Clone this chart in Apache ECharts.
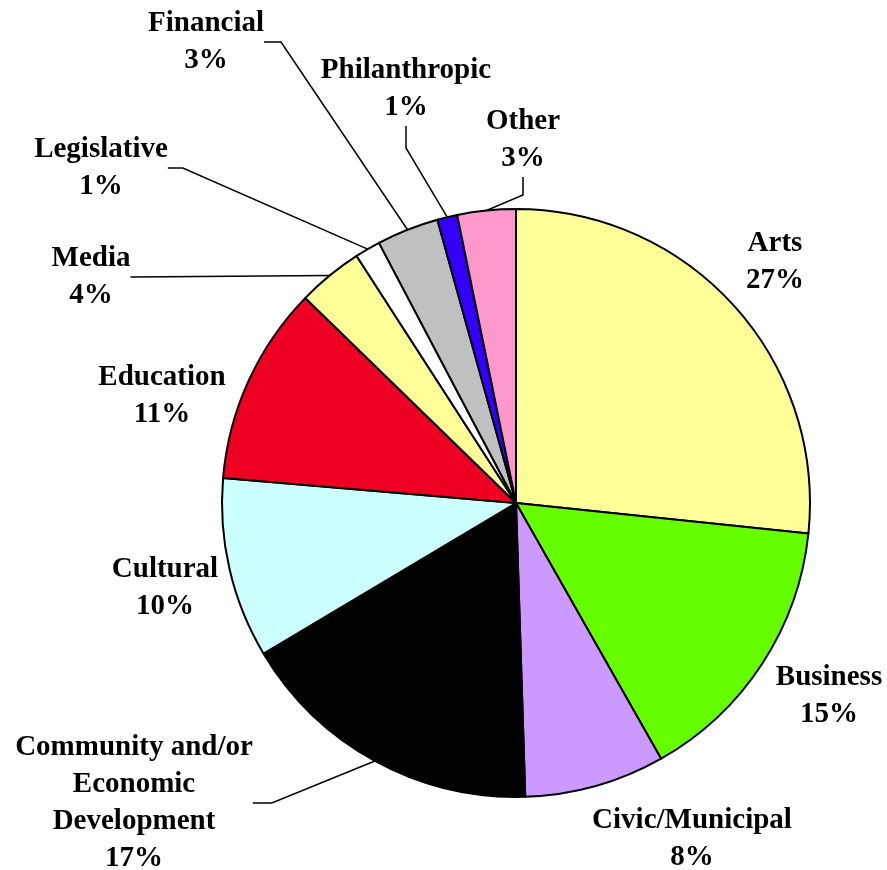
<!DOCTYPE html>
<html>
<head>
<meta charset="utf-8">
<script src="https://cdn.jsdelivr.net/npm/echarts@6/dist/echarts.min.js"></script>
<style>html,body{margin:0;padding:0;background:#fff;}#c{width:887px;height:870px;}</style>
</head>
<body>
<div id="c"></div>
<script>
// Data (clockwise from 12 o'clock)
const categories = ['Arts','Business','Civic/Municipal','Community and/or\nEconomic\nDevelopment','Cultural','Education','Media','Legislative','Financial','Philanthropic','Other'];
const values = [26.6, 15.1, 7.7, 16.9, 9.9, 10.9, 3.6, 1.4, 3.4, 1.1, 3.2];
const colors = ['#FFFF99','#66FF00','#CC99FF','#000000','#CCFFFF','#EE0022','#FFFF99','#FFFFFF','#C0C0C0','#3300FF','#FF99CC'];
// Label layout (centre of each label block) and leader-line settings
const labelPos = [[775,262],[829,696],[692,839],[134,803],[165,588],[162,396],[91,277],[101,168],[206,42],[406,89],[523,140]];
const leader = [null,null,null,19,null,null,2,15,17,22,18];

const chart = echarts.init(document.getElementById('c'), null, {renderer:'canvas'});
const data = categories.map((c,i) => ({
  name: c,
  value: values[i],
  itemStyle: {color: colors[i]},
  labelLine: leader[i] == null ? {show:false} : {show:true, length: 10, length2: leader[i]}
}));
chart.setOption({
  animation: false,
  backgroundColor: '#fff',
  series: [{
    type: 'pie',
    center: [516, 503],
    radius: 294,
    startAngle: 90,
    clockwise: true,
    avoidLabelOverlap: false,
    data: data,
    itemStyle: {borderColor: '#000', borderWidth: 2},
    label: {
      show: true,
      position: 'outside',
      formatter: p => p.name + '\n' + Math.round(p.percent) + '%',
      fontFamily: 'Liberation Serif',
      fontWeight: 'bold',
      fontSize: 29,
      lineHeight: 37,
      color: '#000',
      align: 'center'
    },
    labelLine: {lineStyle: {color: '#000', width: 1.5}, minTurnAngle: 0, smooth: false},
    labelLayout: function (params) {
      const p = labelPos[params.dataIndex];
      return {x: p[0], y: p[1], align: 'center', verticalAlign: 'middle', hideOverlap: false, moveOverlap: null};
    },
    emphasis: {disabled: true}
  }]
});
</script>
</body>
</html>
